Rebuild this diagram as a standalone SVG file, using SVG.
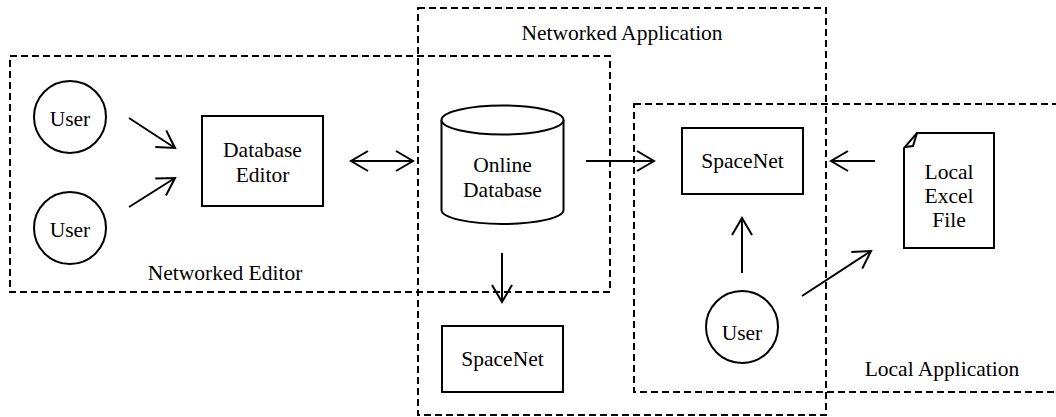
<svg xmlns="http://www.w3.org/2000/svg" width="1056" height="417" viewBox="0 0 1056 417">
<style>
.t{font-family:"Liberation Serif","Times New Roman",serif;font-size:21.5px;fill:#000;text-anchor:middle}
.s{fill:#fff;stroke:#000;stroke-width:2}
.d{fill:none;stroke:#000;stroke-width:2;stroke-dasharray:7 4}
.c{fill:none;stroke:#000;stroke-width:2}
</style>
<defs>
<marker id="ah" viewBox="0 0 20 22" refX="18" refY="11" markerWidth="20" markerHeight="22" markerUnits="userSpaceOnUse" orient="auto-start-reverse">
<path d="M1,1 L18,11 L1,21" fill="none" stroke="#000" stroke-width="2"/>
</marker>
</defs>
<rect width="1056" height="417" fill="#fff"/>
<g id="networked-editor">
<rect class="d" x="10" y="56" width="600" height="236"/>
<text class="t" x="225" y="280">Networked Editor</text>
</g>
<g id="networked-application">
<rect class="d" x="418" y="8" width="408" height="407"/>
<text class="t" x="622" y="40">Networked Application</text>
</g>
<g id="local-application">
<rect class="d" x="634" y="104" width="440" height="288"/>
<text class="t" x="942" y="376">Local Application</text>
</g>
<g id="user1">
<circle class="s" cx="70" cy="117" r="36"/>
<text class="t" x="70" y="126">User</text>
</g>
<g id="user2">
<circle class="s" cx="70" cy="228" r="36"/>
<text class="t" x="70" y="237">User</text>
</g>
<g id="database-editor">
<rect class="s" x="202" y="116" width="121" height="90"/>
<text class="t" x="262.5" y="157">Database</text>
<text class="t" x="262.5" y="182">Editor</text>
</g>
<g id="online-database">
<path class="s" d="M441.5,120 V210 A61,14 0 0 0 563.5,210 V120"/>
<ellipse class="s" cx="502.5" cy="120" rx="61" ry="14.5"/>
<text class="t" x="502.5" y="171.5">Online</text>
<text class="t" x="502.5" y="196.5">Database</text>
</g>
<g id="spacenet-networked">
<rect class="s" x="442" y="326" width="121" height="66"/>
<text class="t" x="502.5" y="366">SpaceNet</text>
</g>
<g id="spacenet-local">
<rect class="s" x="682" y="128" width="121" height="66"/>
<text class="t" x="742.5" y="168">SpaceNet</text>
</g>
<g id="user3">
<circle class="s" cx="742" cy="327" r="36"/>
<text class="t" x="742" y="340">User</text>
</g>
<g id="local-excel-file">
<path class="s" d="M917,133 H994 V248 H904 V148 Z"/>
<path class="c" d="M917,133 L913,146 L905,147" stroke-width="1.5"/>
<text class="t" x="949" y="179">Local</text>
<text class="t" x="949" y="203">Excel</text>
<text class="t" x="949" y="227">File</text>
</g>
<g id="connectors">
<line class="c" x1="129" y1="118" x2="175" y2="148" marker-end="url(#ah)"/>
<line class="c" x1="129" y1="207" x2="175" y2="178" marker-end="url(#ah)"/>
<line class="c" x1="351" y1="161" x2="413" y2="161" marker-start="url(#ah)" marker-end="url(#ah)"/>
<line class="c" x1="586" y1="161" x2="654" y2="161" marker-end="url(#ah)"/>
<line class="c" x1="502" y1="253" x2="502" y2="302" marker-end="url(#ah)"/>
<line class="c" x1="742" y1="273" x2="742" y2="218" marker-end="url(#ah)"/>
<line class="c" x1="802" y1="296" x2="871" y2="251" marker-end="url(#ah)"/>
<line class="c" x1="875" y1="161" x2="831" y2="161" marker-end="url(#ah)"/>
</g>
</svg>
